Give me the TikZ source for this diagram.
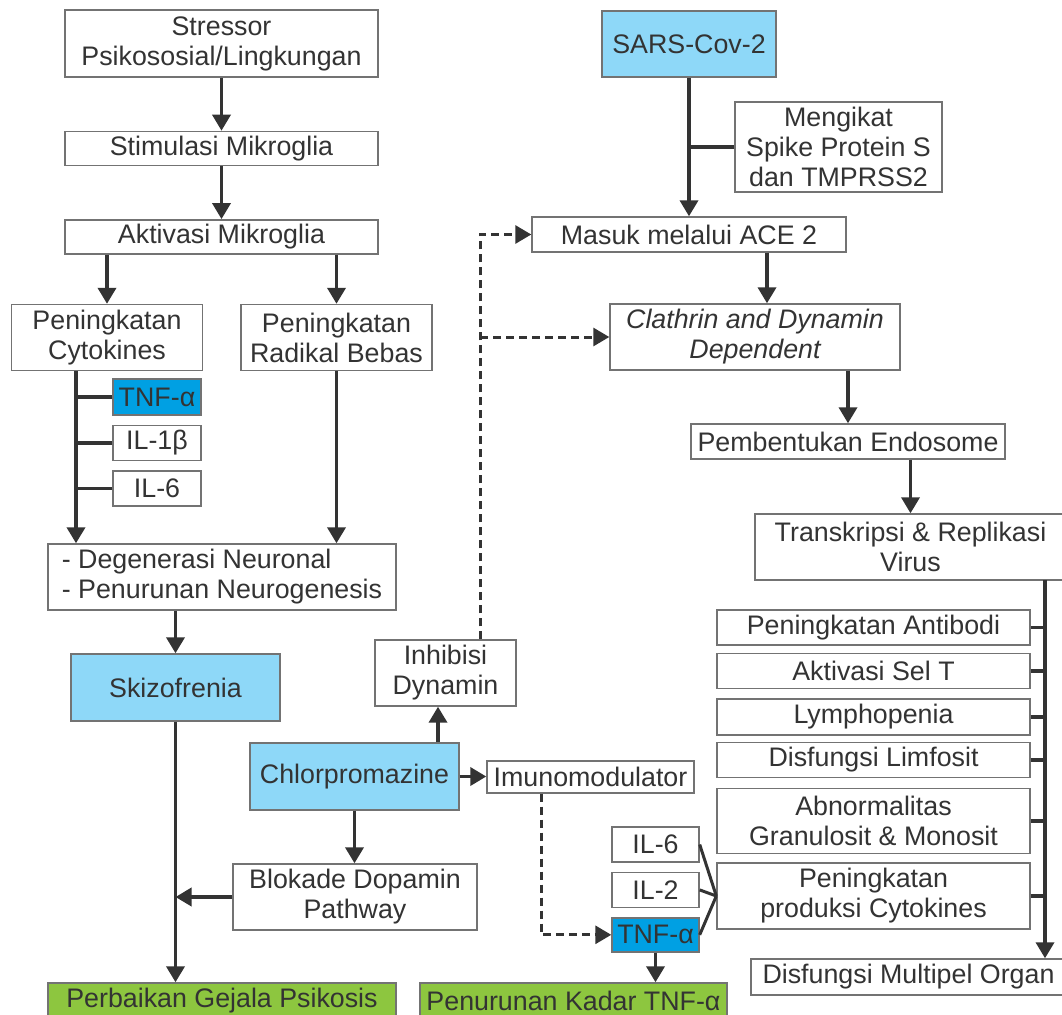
\documentclass[tikz,border=0pt]{standalone}
\usepackage{fontspec}
\setmainfont{Liberation Sans}
\usepackage{xcolor}
\usepackage{tikz}
\usetikzlibrary{arrows.meta, positioning, calc}
\definecolor{skyfill}{HTML}{8ED8F8}
\definecolor{tnffill}{HTML}{00A0E3}
\definecolor{leaf}{HTML}{8DC63F}
\definecolor{ink}{HTML}{333333}

\begin{document}
\begin{tikzpicture}[
  x=1pt, y=-1pt,
  font=\fontsize{26.8}{30}\selectfont,
  text=ink,
  box/.style={draw=black!55, line width=1.4pt, fill=white, align=center,
              inner sep=0pt, minimum height=35pt},
  sky/.style={box, fill=skyfill},
  tnf/.style={box, fill=tnffill},
  leafbox/.style={box, fill=leaf},
  ar/.style={-{Triangle[length=16pt,width=18pt]}, line width=3.6pt, draw=ink},
  dar/.style={ar, line width=3pt, dash pattern=on 8pt off 5pt},
  ln/.style={line width=3.6pt, draw=ink}
]
\useasboundingbox (0,0) rectangle (1062,1014);

% schizophrenia side
\node[box, minimum width=313pt, minimum height=67pt] (stressor) at (221.5,43.5)
     {Stressor\\Psikososial/Lingkungan};
\node[box, minimum width=313pt, minimum height=34pt, below=53pt of stressor] (stim)
     {Stimulasi Mikroglia};
\node[box, minimum width=313pt, minimum height=34pt, below=53pt of stim] (aktiv)
     {Aktivasi Mikroglia};
\node[box, minimum width=191pt, minimum height=66pt] (cyto) at (107,337.5)
     {Peningkatan\\Cytokines};
\node[box, minimum width=191pt, minimum height=66pt] (radikal) at (336.5,337.5)
     {Peningkatan\\Radikal Bebas};
\node[tnf, minimum width=88pt, minimum height=36pt] (tnfa) at (157,397) {TNF-α};
\node[box, minimum width=88pt, below=9pt of tnfa] (ilb) {IL-1β};
\node[box, minimum width=88pt, below=9pt of ilb] (ilsix) {IL-6};
\node[box, minimum width=348pt, minimum height=66pt, align=left] (degen) at (222,577)
     {- Degenerasi Neuronal\\- Penurunan Neurogenesis};
\node[sky, minimum width=209pt, minimum height=67pt] (skizo) at (175.5,687.5) {Skizofrenia};
\node[leafbox, minimum width=348pt] (perb) at (222,1000.5) {Perbaikan Gejala Psikosis};

% drug
\node[sky, minimum width=209pt, minimum height=67pt] (chlor) at (354.5,776.5) {Chlorpromazine};
\node[box, minimum width=141pt, minimum height=66pt] (inhib) at (445.5,673) {Inhibisi\\Dynamin};
\node[box, minimum width=244pt, minimum height=66pt] (blok) at (355,897)
     {Blokade Dopamin\\Pathway};
\node[box, minimum width=207pt, minimum height=32pt] (imuno) at (590.5,777) {Imunomodulator};
\node[box, minimum width=87pt] (ilsixb) at (655.5,844.5) {IL-6};
\node[box, minimum width=87pt, below=9pt of ilsixb] (iltwo) {IL-2};
\node[tnf, minimum width=87pt, minimum height=34pt, below=9pt of iltwo] (tnfb) {TNF-α};
\node[leafbox, minimum width=307pt] (pen) at (573.5,1000.5) {Penurunan Kadar TNF-α};

% virus side
\node[sky, minimum width=174pt, minimum height=66pt] (sars) at (689,44) {SARS-Cov-2};
\node[box, minimum width=207pt, minimum height=90pt] (meng) at (838.5,147)
     {Mengikat\\Spike Protein S\\dan TMPRSS2};
\node[box, minimum width=314pt] (ace) at (689,234.5) {Masuk melalui ACE 2};
\node[box, minimum width=290pt, minimum height=66pt, font=\fontsize{26.8}{30}\selectfont\itshape]
     (clath) at (755,337) {Clathrin and Dynamin\\Dependent};
\node[box, minimum width=314pt] (endo) at (848,441.5) {Pembentukan Endosome};
\node[box, minimum width=311pt, minimum height=66pt] (trans) at (910.5,547)
     {Transkripsi \& Replikasi\\Virus};
\node[box, minimum width=313pt] (antib) at (873.5,627.5) {Peningkatan Antibodi};
\node[box, minimum width=313pt, below=7pt of antib] (selt) {Aktivasi Sel T};
\node[box, minimum width=313pt, minimum height=36pt, below=9pt of selt] (lymph) {Lymphopenia};
\node[box, minimum width=313pt, below=6pt of lymph] (dlimf) {Disfungsi Limfosit};
\node[box, minimum width=313pt, minimum height=65pt, below=10pt of dlimf] (abn)
     {Abnormalitas\\Granulosit \& Monosit};
\node[box, minimum width=313pt, minimum height=66pt, below=8pt of abn] (prodc)
     {Peningkatan\\produksi Cytokines};
\node[box, minimum width=315pt, minimum height=36pt] (multi) at (908.5,977)
     {Disfungsi Multipel Organ};

\coordinate (ctrunk) at (76,370);
\coordinate (rtrunk) at (1045,580);

\draw[ar] (stressor) -- (stim);
\draw[ar] (stim) -- (aktiv);
\draw[ar] (aktiv.south -| cyto) -- (cyto);
\draw[ar] (aktiv.south -| radikal) -- (radikal);
\draw[ar] (cyto.south -| ctrunk) -- (degen.north -| ctrunk);
\foreach \n in {tnfa, ilb, ilsix}
  \draw[ln] (\n.west) -- (\n.west -| ctrunk);
\draw[ar] (radikal) -- (radikal |- degen.north);
\draw[ar] (degen.south -| skizo) -- (skizo);
\draw[ar] (skizo) -- (skizo |- perb.north);
\draw[ar] (blok.west) -- (blok.west -| skizo);
\draw[ar] (chlor) -- (chlor |- blok.north);
\draw[ar] ([xshift=-7.5pt]inhib.south |- chlor.north) -- ([xshift=-7.5pt]inhib.south);
\draw[ar] (chlor.east) -- (chlor.east -| imuno.west);
\draw[dar] ([xshift=-49.5pt]imuno.south) |- (tnfb.west);
\draw[ar] (tnfb) -- (tnfb |- pen.north);
\foreach \n in {ilsixb, iltwo, tnfb}
  \draw[line width=3pt, draw=ink] (\n.east) -- (prodc.west);
\draw[dar] ([xshift=34.5pt]inhib.north) |- (ace.west);
\draw[dar] ([xshift=34.5pt]inhib.north |- clath.west) -- (clath.west);

\draw[ar] (sars) -- (ace);
\draw[ln] (meng.west) -- (meng.west -| sars);
\draw[ar] ([xshift=78pt]ace.south) -- ([xshift=78pt]ace.south |- clath.north);
\draw[ar] (clath.south -| endo) -- (endo);
\draw[ar] (endo.south -| trans) -- (trans);
\draw[ar] (rtrunk) -- (multi.north -| rtrunk);
\foreach \n in {antib, selt, lymph, dlimf, abn, prodc}
  \draw[ln] (\n.east) -- (\n.east -| rtrunk);
\end{tikzpicture}
\end{document}
